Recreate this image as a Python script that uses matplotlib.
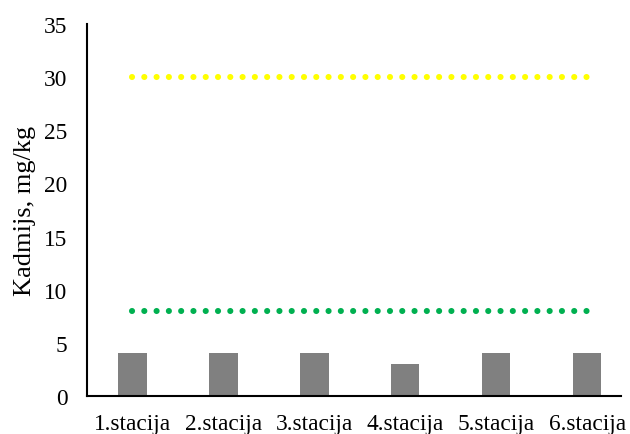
import matplotlib
matplotlib.use("Agg")
import matplotlib.pyplot as plt

stations = ["1.stacija", "2.stacija", "3.stacija", "4.stacija", "5.stacija", "6.stacija"]
cadmium = [4, 4, 4, 3, 4, 4]
limit_low = 8
limit_high = 30

plt.rcParams["font.family"] = ["Liberation Serif", "DejaVu Serif"]

fig = plt.figure(figsize=(6.3, 4.35), dpi=100)
ax = fig.add_axes([87 / 630, (435 - 397) / 435, (621 - 87) / 630, (397 - 25) / 435])

x = list(range(len(stations)))
ax.bar(x, cadmium, width=0.31, color="#808080", zorder=2)
# dotted limit lines
ax.plot(x, [limit_high] * len(x), linestyle=(0, (0.01, 2.0)), dash_capstyle="round",
        linewidth=4.4, color="#ffff00", zorder=3)
ax.plot(x, [limit_low] * len(x), linestyle=(0, (0.01, 2.0)), dash_capstyle="round",
        linewidth=4.4, color="#00b050", zorder=3)

ax.set_xlim(-0.5, 5.37)
ax.set_ylim(0, 35)
ax.set_yticks(range(0, 36, 5))
ax.set_xticks(x)
ax.set_xticklabels(stations)
ax.tick_params(axis="y", length=0, pad=14, labelsize=16.8)
ax.tick_params(axis="x", length=0, pad=12, labelsize=16.8)
ax.set_ylabel("Kadmijs, mg/kg", fontsize=19, labelpad=6)

for side in ("top", "right"):
    ax.spines[side].set_visible(False)
for side in ("left", "bottom"):
    ax.spines[side].set_linewidth(1.5)

fig.savefig("out.png", dpi=100)
